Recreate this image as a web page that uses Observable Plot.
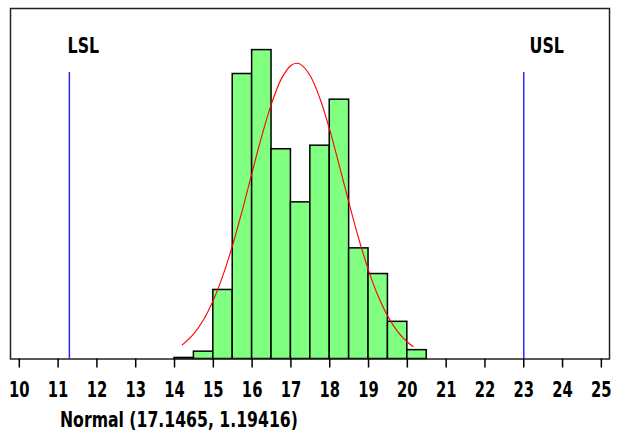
<!DOCTYPE html>
<html>
<head>
<meta charset="utf-8">
<script src="https://cdn.jsdelivr.net/npm/d3@7"></script>
<script src="https://cdn.jsdelivr.net/npm/@observablehq/plot@0.6"></script>
<style>
  html, body { margin: 0; padding: 0; background: #fff; }
  #wrap { position: relative; width: 621px; height: 435px; overflow: hidden; }
  #chart { position: absolute; left: 0; top: 0; }
  #caption {
    position: absolute; left: 60px; top: 408px;
    font-family: "Liberation Sans Narrow", "DejaVu Sans Condensed", "Arial Narrow", sans-serif;
    font-weight: bold; font-size: 20.5px; color: #000; white-space: nowrap;
    transform: scaleX(0.85); transform-origin: 0 0;
  }
  svg text { font-family: "Liberation Sans Narrow", "DejaVu Sans Condensed", "Arial Narrow", sans-serif; font-weight: bold; }
</style>
</head>
<body>
<div id="wrap"><div id="chart"></div><div id="caption">Normal (17.1465, 1.19416)</div></div>
<script>
// Histogram bins (left and right edges) and bar heights (density)
const binLeft  = [14, 14.5, 15, 15.5, 16, 16.5, 17, 17.5, 18, 18.5, 19, 19.5, 20];
const binRight = [14.5, 15, 15.5, 16, 16.5, 17, 17.5, 18, 18.5, 19, 19.5, 20, 20.5];
const barHeight = [0.0012, 0.0083, 0.078, 0.322, 0.349, 0.237, 0.177, 0.241, 0.293, 0.125, 0.096, 0.042, 0.010];

// Fitted normal curve
const curveX = [14.2, 14.5, 14.75, 15, 15.25, 15.5, 15.75, 16, 16.25, 16.5, 16.75, 17, 17.15, 17.25, 17.5, 17.75, 18, 18.25, 18.5, 18.75, 19, 19.25, 19.5, 19.75, 20, 20.15];
const curveY = [0.0159, 0.0287, 0.0446, 0.0664, 0.0947, 0.1291, 0.1686, 0.2107, 0.2520, 0.2885, 0.3162, 0.3316, 0.3341, 0.3329, 0.3198, 0.2940, 0.2588, 0.2180, 0.1758, 0.1356, 0.1002, 0.0708, 0.0479, 0.0310, 0.0192, 0.0141];

// Spec limits
const limitLabels = ["LSL", "USL"];
const limitValues = [11.29, 23];

// Axis ticks
const xTicks = [10, 11, 12, 13, 14, 15, 16, 17, 18, 19, 20, 21, 22, 23, 24, 25];

const bars = binLeft.map((l, i) => ({x1: l, x2: binRight[i], y: barHeight[i]}));
const curve = curveX.map((x, i) => ({x, y: curveY[i]}));
const limits = limitLabels.map((label, i) => ({label, value: limitValues[i]}));

const chart = Plot.plot({
  width: 621,
  height: 412,
  marginLeft: 10,
  marginRight: 12,
  marginTop: 8,
  marginBottom: 53.5,
  style: {background: "white", fontSize: "20px", overflow: "visible"},
  x: {domain: [9.773, 25.21], ticks: xTicks, tickFormat: d => String(d), label: null},
  y: {domain: [0, 0.396], axis: null},
  marks: [
    Plot.ruleX(limits, {x: "value", stroke: "#2a2aff", strokeWidth: 1.5, insetTop: 64}),
    Plot.text(limits.filter(d => d.label === "LSL"), {x: "value", text: "label", frameAnchor: "top", dy: 29, dx: 14, fontSize: 22, fill: "#000"}),
    Plot.text(limits.filter(d => d.label === "USL"), {x: "value", text: "label", frameAnchor: "top", dy: 29, dx: 23, fontSize: 22, fill: "#000"}),
    Plot.rectY(bars, {x1: "x1", x2: "x2", y: "y", fill: "#80ff80", stroke: "#000", strokeWidth: 1.5}),
    Plot.line(curve, {x: "x", y: "y", stroke: "#ff0000", strokeWidth: 1.1, curve: "catmull-rom"}),
    Plot.frame({stroke: "#222", strokeWidth: 1.5}),
    Plot.axisX({ticks: xTicks, tickSize: 9, tickPadding: 14, stroke: "#000", strokeWidth: 1.5, tickFormat: d => String(d), label: null, fontSize: 20.5, fill: "#000"})
  ]
});
// condense the bold labels horizontally, around each label's own anchor
chart.querySelectorAll("text").forEach(t => {
  const tr = t.getAttribute("transform");
  if (tr && tr.includes("translate")) t.setAttribute("transform", tr + " scale(0.8,1)");
});
document.getElementById("chart").appendChild(chart);
</script>
</body>
</html>
